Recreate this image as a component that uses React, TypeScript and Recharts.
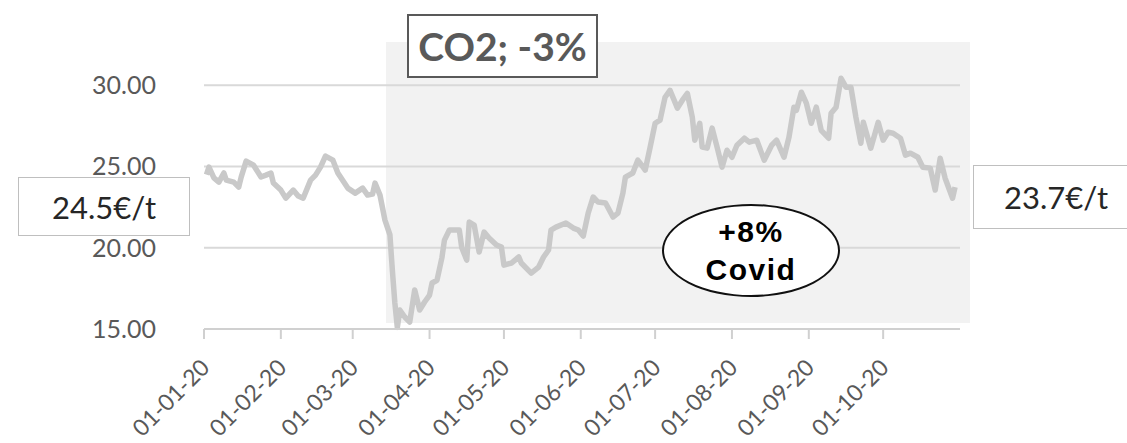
import { CartesianGrid, Line, LineChart, XAxis, YAxis } from "recharts";

// month starts, counted in days from 1 Jan 2020
const MONTH_TICKS = [0, 31, 60, 91, 121, 152, 182, 213, 244, 274];
const MONTH_LABELS = [
  "01-01-20", "01-02-20", "01-03-20", "01-04-20", "01-05-20",
  "01-06-20", "01-07-20", "01-08-20", "01-09-20", "01-10-20",
];
const Y_TICKS = [15, 20, 25, 30];

// days since 1 Jan 2020
const DAYS = [
  1, 2, 4, 6, 8, 9, 12, 14, 15, 17, 20, 23, 25, 27, 28, // jan
  31, 33, 36, 38, 40, 43, 45, 47, 49, 52, 54, 58, // feb
  61, 64, 66, 68, 69, 71, 73, 75, 76, 77, 78, 79, 81, 83, 85, 87, 89, // mar
  91, 92, 94, 96, 97, 99, 103, 104, 106, 107, 109, 111, 113, 115, 118, 120, // apr
  121, 124, 127, 128, 132, 135, 137, 139, 140, 142, 146, 149, 151, // may
  153, 155, 157, 159, 162, 165, 167, 169, 170, 173, 175, 176, 178, 180, // jun
  182, 184, 186, 188, 191, 193, 195, 197, 198, 200, 201, 203, 205, 207, 209, 211, // jul
  213, 215, 218, 220, 223, 226, 229, 231, 234, 236, 238, 239, 241, 243, // aug
  245, 247, 249, 252, 253, 255, 257, 259, 261, 263, 265, 266, 269, 272, // sep
  274, 276, 278, 281, 283, 285, 288, 290, 293, 295, 297, 299, 302, 303, // oct
];

// CO2 price, €/t
const PRICES = [
  24.5, 24.96, 24.3, 24.04, 24.6, 24.16, 24.04, 23.73, 24.35, 25.33, 25.08, 24.35, 24.47, 24.6, 23.98,
  23.55, 23.05, 23.55, 23.18, 23.05, 24.16, 24.47, 24.96, 25.64, 25.39, 24.6, 23.67,
  23.36, 23.67, 23.24, 23.3, 23.98, 23.24, 21.7, 20.8, 18.6, 16.6, 15.1, 16.17, 15.74, 15.43, 17.4, 16.17, 16.66,
  17.09, 17.83, 18.0, 19.4, 20.47, 21.09, 21.09, 20.0, 19.24, 21.58, 21.4, 19.74, 20.96, 20.6, 20.17, 20.04,
  18.93, 19.06, 19.43, 19.06, 18.44, 18.81, 19.43, 19.86, 21.09, 21.27, 21.52, 21.21, 21.09,
  20.72, 22.13, 23.12, 22.81, 22.75, 21.89, 22.13, 23.36, 24.35, 24.6, 25.39, 25.2, 24.78, 26.19,
  27.66, 27.85, 29.26, 29.69, 28.59, 29.08, 29.5, 28.03, 26.62, 27.66, 26.19, 26.13, 27.36, 26.19, 24.96, 26.0,
  25.57, 26.31, 26.74, 26.5, 26.62, 25.39, 26.31, 26.62, 25.57, 26.8, 28.65, 28.46, 29.57, 28.9,
  27.66, 28.65, 27.23, 26.74, 28.28, 28.65, 30.43, 29.88, 29.88, 28.03, 26.43, 27.72, 26.13, 27.72,
  26.62, 27.11, 27.05, 26.74, 25.7, 25.82, 25.57, 24.96, 24.9, 23.55, 25.51, 24.28, 23.05, 23.73,
];

const data = DAYS.map((day, i) => ({ day, price: PRICES[i] }));

const LABEL = "#595959";
const FONT = "Lato, 'Noto Sans', sans-serif";

function DateTick({ x, y, payload }: any) {
  const label = MONTH_LABELS[MONTH_TICKS.indexOf(payload.value)];
  const tx = x + 7;
  const ty = y + 30;
  return (
    <text
      x={tx}
      y={ty}
      textAnchor="end"
      transform={`rotate(-45 ${tx} ${ty})`}
      fill={LABEL}
      fontSize={23}
      fontFamily={FONT}
    >
      {label}
    </text>
  );
}

const box = (extra: React.CSSProperties): React.CSSProperties => ({
  position: "absolute",
  boxSizing: "border-box",
  background: "#fff",
  display: "flex",
  alignItems: "center",
  justifyContent: "center",
  fontFamily: FONT,
  ...extra,
});

export default function App() {
  return (
    <div style={{ position: "relative", width: 1127, height: 443, overflow: "hidden", background: "#fff" }}>
      <style>{"body{margin:0}"}</style>
      {/* shaded covid period */}
      <div style={{ position: "absolute", left: 386, top: 42, width: 584, height: 281, background: "#f2f2f2" }} />
      <div style={{ position: "absolute", left: 0, top: 0 }}>
        <LineChart width={1127} height={443} data={data} margin={{ top: 69, right: 167, bottom: 0, left: 0 }}>
          <CartesianGrid vertical={false} horizontalValues={Y_TICKS} stroke="#d9d9d9" strokeWidth={2} />
          <XAxis
            dataKey="day"
            type="number"
            domain={[0, 305]}
            ticks={MONTH_TICKS}
            interval={0}
            height={114}
            tickSize={10}
            tickMargin={0}
            axisLine={{ stroke: "#d0d0d0", strokeWidth: 2 }}
            tickLine={{ stroke: "#d0d0d0", strokeWidth: 2 }}
            tick={<DateTick />}
          />
          <YAxis
            type="number"
            domain={[15, 31]}
            ticks={Y_TICKS}
            width={204}
            axisLine={false}
            tickLine={false}
            tickMargin={42}
            tickFormatter={(v: number) => v.toFixed(2)}
            tick={{ fill: LABEL, fontSize: 25, fontFamily: FONT }}
          />
          <Line
            type="linear"
            dataKey="price"
            stroke="#c9c9c9"
            strokeWidth={5.5}
            strokeLinejoin="round"
            dot={false}
            isAnimationActive={false}
          />
        </LineChart>
      </div>

      <div style={box({ left: 407, top: 14, width: 191, height: 64, border: "2px solid #595959", color: LABEL, fontSize: 39, fontWeight: 700 })}>
        CO2; -3%
      </div>
      <div style={box({ left: 18, top: 177, width: 172, height: 59, border: "1.5px solid #bfbfbf", color: "#262626", fontSize: 31 })}>
        24.5€/t
      </div>
      <div style={box({ left: 973, top: 165, width: 166, height: 64, border: "1.5px solid #bfbfbf", color: "#262626", fontSize: 31 })}>
        23.7€/t
      </div>
      <div
        style={box({
          left: 662,
          top: 204,
          width: 178,
          height: 93,
          border: "2px solid #111",
          borderRadius: "50%",
          flexDirection: "column",
          color: "#000",
          fontFamily: "'Liberation Sans', Arial, sans-serif",
          fontWeight: 700,
          fontSize: 30,
          letterSpacing: 1.5,
          lineHeight: "38px",
        })}
      >
        <div>+8%</div>
        <div>Covid</div>
      </div>
    </div>
  );
}
